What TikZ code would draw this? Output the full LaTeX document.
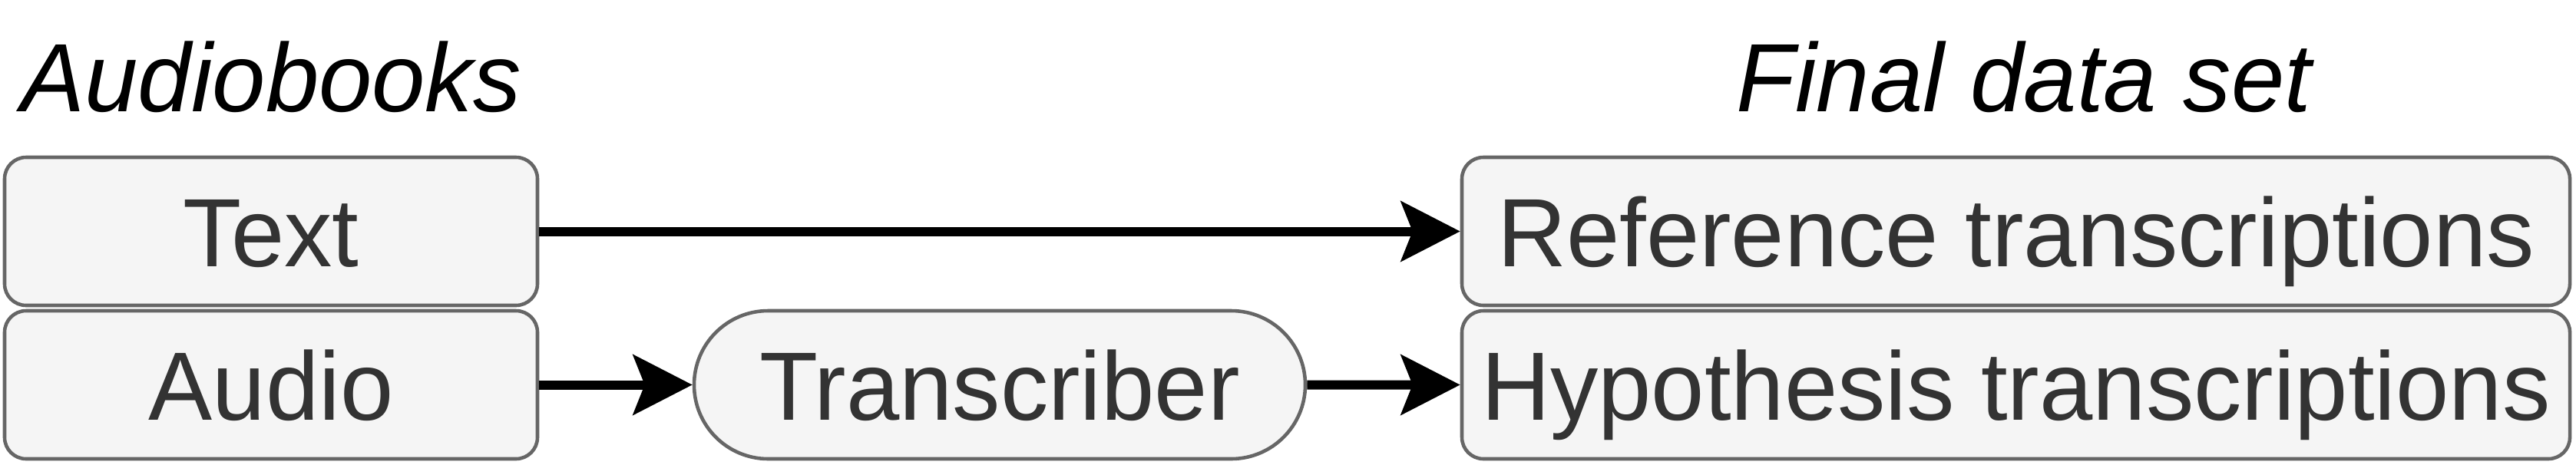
\documentclass[tikz,border=0pt]{standalone}
\usepackage{fontspec}
\setmainfont[FakeStretch=0.985]{Liberation Sans}
\usetikzlibrary{arrows.meta,shapes.misc}
\definecolor{boxfill}{HTML}{F5F5F5}
\definecolor{boxline}{HTML}{666666}
\definecolor{boxtext}{HTML}{333333}
\begin{document}
\begin{tikzpicture}[
    every node/.style={font=\fontsize{36}{43}\selectfont},
    databox/.style={draw=boxline, fill=boxfill, text=boxtext, line width=1.3pt,
      rounded corners=0.28cm, minimum height=1.93cm, text height=0.91cm,
      text depth=0pt, inner sep=0pt},
    procbox/.style={databox, rounded rectangle, sharp corners, minimum width=7.96cm},
    heading/.style={font=\fontsize{36}{43}\selectfont\itshape, anchor=base},
    flow/.style={-{Stealth[length=0.77cm, width=0.78cm, inset=0.15cm]}, line width=0.12cm}]
    \useasboundingbox (0,0) rectangle (33.55,6.05);

    % headings
    \node[heading] (books) at (3.53,4.60)  {Audiobooks};
    \node[heading] (final) at (26.36,4.60) {Final data set};

    % sources
    \node[databox, minimum width=6.94cm] (text)  at (3.53,3.035) {Text};
    \node[databox, minimum width=6.94cm] (audio) at (3.53,1.035) {Audio};

    % transcriber
    \node[procbox] (trans) at (13.02,1.035) {Transcriber};

    % outputs
    \node[databox, minimum width=14.43cm] (ref) at (26.255,3.035) {Reference transcriptions};
    \node[databox, minimum width=14.43cm] (hyp) at (26.255,1.035) {Hypothesis transcriptions};

    % arrows
    \draw[flow] (text)  -- (ref);
    \draw[flow] (audio) -- (trans);
    \draw[flow] (trans) -- (hyp);
  \end{tikzpicture}
\end{document}
